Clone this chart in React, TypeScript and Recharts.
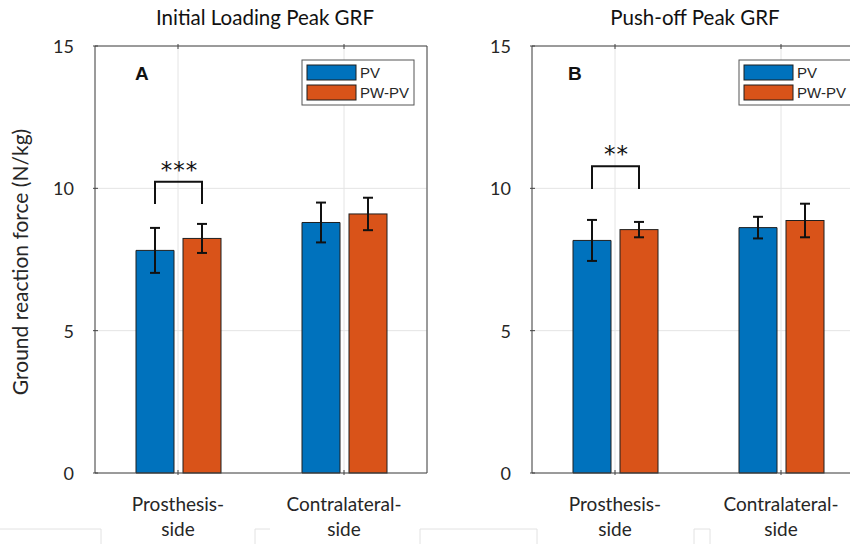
import { Bar, BarChart, CartesianGrid, ErrorBar, XAxis, YAxis } from "recharts";

const categories = ["Prosthesis-side", "Contralateral-side"];
const seriesNames = ["PV", "PW-PV"];
const yTicks = [0, 5, 10, 15];

// Initial loading peak GRF: mean and SD per side
const loadingPV = [7.82, 8.8];
const loadingPVSd = [0.79, 0.7];
const loadingPWPV = [8.24, 9.1];
const loadingPWPVSd = [0.51, 0.57];
const loadingSig = ["***", ""];
const loadingBracket = [10.23, 9.45]; // bracket top, leg ends

// Push-off peak GRF: mean and SD per side
const pushPV = [8.17, 8.62];
const pushPVSd = [0.72, 0.38];
const pushPWPV = [8.55, 8.87];
const pushPWPVSd = [0.27, 0.59];
const pushSig = ["**", ""];
const pushBracket = [10.78, 9.98];

const BLUE = "#0072BD";
const ORANGE = "#D95319";
const AXIS = "#444";
const GRID = "#e4e4e4";
const EDGE = "#1f1f1f";
const FONT = "Lato, 'Open Sans', sans-serif";
const BAR_GAP = 9;
const TICK_LEN = 5;

function LeftTick({ x, y, payload }: any) {
  return (
    <g>
      <text x={x - 19} y={y} textAnchor="end" dominantBaseline="central" fontSize={18} fontFamily={FONT} fill="#262626">
        {payload.value}
      </text>
      <line x1={x} x2={x + TICK_LEN} y1={y} y2={y} stroke={AXIS} />
    </g>
  );
}

function RightTick({ x, y }: any) {
  return <line x1={x} x2={x - TICK_LEN} y1={y} y2={y} stroke={AXIS} />;
}

function BottomTick({ x, y, payload }: any) {
  const lines: string[] = String(payload.value).split(/(?<=-)/);
  return (
    <g>
      <line x1={x} x2={x} y1={y} y2={y - TICK_LEN} stroke={AXIS} />
      {lines.map((t, i) => (
        <text key={i} x={x} y={y + 36 + i * 25} textAnchor="middle" fontSize={19} fontFamily={FONT} fill="#262626">
          {t}
        </text>
      ))}
    </g>
  );
}

function TopTick({ x, y }: any) {
  return <line x1={x} x2={x} y1={y} y2={y + TICK_LEN} stroke={AXIS} />;
}

// orange bar plus the significance bracket joining it to the blue bar beside it
const bracketShape = (sig: string[], bracket: number[]) => (props: any) => {
  const { x, y, width, height, index, fill, payload } = props;
  const bottom = y + height;
  const perUnit = height / payload.pwpv;
  const mark = sig[index];
  const x1 = x - BAR_GAP - width / 2;
  const x2 = x + width / 2;
  const top = bottom - bracket[0] * perUnit;
  const leg = bottom - bracket[1] * perUnit;
  return (
    <g>
      <rect x={x} y={y} width={width} height={height} fill={fill} stroke={EDGE} strokeWidth={1} />
      {mark && (
        <g>
          <path d={`M${x1},${leg}V${top}H${x2}V${leg}`} fill="none" stroke="#111" strokeWidth={2} />
          <text x={(x1 + x2) / 2 + 1} y={top - 4} textAnchor="middle" fontSize={23} fontFamily="'DejaVu Sans', sans-serif" letterSpacing={1} fill="#111">
            {mark}
          </text>
        </g>
      )}
    </g>
  );
};

function Panel(props: {
  pv: number[];
  pvSd: number[];
  pwpv: number[];
  pwpvSd: number[];
  sig: string[];
  bracket: number[];
  left: number;
}) {
  const data = categories.map((name, i) => ({
    name,
    pv: props.pv[i],
    pvSd: props.pvSd[i],
    pwpv: props.pwpv[i],
    pwpvSd: props.pwpvSd[i],
  }));
  return (
    <div style={{ position: "absolute", left: props.left, top: 0 }}>
      <BarChart
        width={460}
        height={544}
        data={data}
        margin={{ top: 45, right: 32, bottom: 70, left: 94 }}
        barSize={38}
        barGap={BAR_GAP}
      >
        <CartesianGrid stroke={GRID} />
        <XAxis
          dataKey="name"
          height={1}
          interval={0}
          tickSize={0}
          tickLine={false}
          axisLine={{ stroke: AXIS }}
          tick={<BottomTick />}
        />
        <XAxis
          xAxisId="top"
          orientation="top"
          dataKey="name"
          height={1}
          interval={0}
          tickSize={0}
          tickLine={false}
          axisLine={{ stroke: AXIS }}
          tick={<TopTick />}
        />
        <YAxis
          width={1}
          domain={[0, 15]}
          ticks={yTicks}
          tickSize={0}
          tickLine={false}
          axisLine={{ stroke: AXIS }}
          tick={<LeftTick />}
        />
        <YAxis
          yAxisId="right"
          orientation="right"
          width={1}
          domain={[0, 15]}
          ticks={yTicks}
          tickSize={0}
          tickLine={false}
          axisLine={{ stroke: AXIS }}
          tick={<RightTick />}
        />
        <Bar dataKey="pv" name={seriesNames[0]} fill={BLUE} stroke={EDGE} strokeWidth={1} isAnimationActive={false}>
          <ErrorBar dataKey="pvSd" width={5} strokeWidth={2} stroke="#111" direction="y" />
        </Bar>
        <Bar
          dataKey="pwpv"
          name={seriesNames[1]}
          fill={ORANGE}
          shape={bracketShape(props.sig, props.bracket)}
          isAnimationActive={false}
        >
          <ErrorBar dataKey="pwpvSd" width={5} strokeWidth={2} stroke="#111" direction="y" />
        </Bar>
      </BarChart>
    </div>
  );
}

function LegendBox({ x }: { x: number }) {
  const colors = [BLUE, ORANGE];
  return (
    <g>
      <rect x={x} y={60} width={112} height={45} fill="#fff" stroke="#555" />
      {seriesNames.map((n, i) => (
        <g key={n}>
          <rect x={x + 5} y={65 + i * 20} width={49} height={15} fill={colors[i]} stroke={EDGE} />
          <text x={x + 58} y={78 + i * 20} fontSize={15} fontFamily="'Liberation Sans', Arial, sans-serif" fill="#262626">
            {n}
          </text>
        </g>
      ))}
    </g>
  );
}

export default function App() {
  return (
    <div style={{ position: "absolute", left: 0, top: 0, width: 850, height: 544, overflow: "hidden", background: "#fff" }}>
      <Panel pv={loadingPV} pvSd={loadingPVSd} pwpv={loadingPWPV} pwpvSd={loadingPWPVSd} sig={loadingSig} bracket={loadingBracket} left={0} />
      <Panel pv={pushPV} pvSd={pushPVSd} pwpv={pushPWPV} pwpvSd={pushPWPVSd} sig={pushSig} bracket={pushBracket} left={437} />
      <svg width={850} height={544} style={{ position: "absolute", left: 0, top: 0, pointerEvents: "none" }}>
        <text x={265} y={25} textAnchor="middle" fontSize={20.5} fontFamily={FONT} fill="#111">
          Initial Loading Peak GRF
        </text>
        <text x={695} y={25} textAnchor="middle" fontSize={20.5} fontFamily={FONT} fill="#111">
          Push-off Peak GRF
        </text>
        <text
          transform="translate(28,262) rotate(-90)"
          textAnchor="middle"
          fontSize={21}
          fontFamily={FONT}
          fill="#262626"
        >
          Ground reaction force (N/kg)
        </text>
        <text x={135} y={80} fontSize={19} fontWeight="bold" fontFamily="'Liberation Sans', Arial, sans-serif" fill="#111">
          A
        </text>
        <text x={568} y={80} fontSize={19} fontWeight="bold" fontFamily="'Liberation Sans', Arial, sans-serif" fill="#111">
          B
        </text>
        <LegendBox x={302} />
        <LegendBox x={739} />
        {/* faint page edges along the bottom */}
        <path
          d="M0,529H101V544M255,544V529H270M420,544V529H537V544M694,544V529H710V544"
          fill="none"
          stroke="#e2e2e2"
        />
      </svg>
    </div>
  );
}
